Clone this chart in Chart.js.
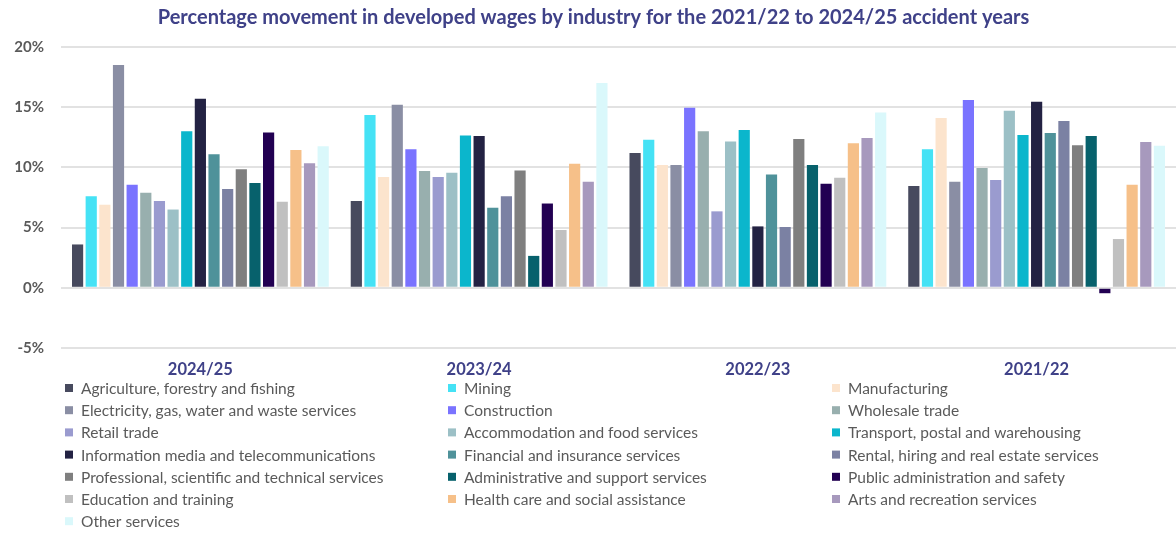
<!DOCTYPE html>
<html>
<head>
<meta charset="utf-8">
<script src="https://cdn.jsdelivr.net/npm/chart.js@4/dist/chart.umd.min.js"></script>
<style>
  html, body { margin: 0; padding: 0; background: #fff; }
  #wrap { width: 1176px; height: 533px; position: relative; }
</style>
</head>
<body>
<div id="wrap"><canvas id="wages"></canvas></div>
<script>
// accident years, newest first
const years = ['2024/25', '2023/24', '2022/23', '2021/22'];

const industries = [
  'Agriculture, forestry and fishing',
  'Mining',
  'Manufacturing',
  'Electricity, gas, water and waste services',
  'Construction',
  'Wholesale trade',
  'Retail trade',
  'Accommodation and food services',
  'Transport, postal and warehousing',
  'Information media and telecommunications',
  'Financial and insurance services',
  'Rental, hiring and real estate services',
  'Professional, scientific and technical services',
  'Administrative and support services',
  'Public administration and safety',
  'Education and training',
  'Health care and social assistance',
  'Arts and recreation services',
  'Other services'
];

// % movement per industry, one value per year above
const agriculture   = [3.6, 7.2, 11.2, 8.45];
const mining        = [7.6, 14.35, 12.3, 11.5];
const manufacturing = [6.9, 9.2, 10.2, 14.1];
const electricity   = [18.5, 15.2, 10.2, 8.8];
const construction  = [8.55, 11.5, 14.95, 15.6];
const wholesale     = [7.9, 9.7, 13.0, 9.95];
const retail        = [7.2, 9.2, 6.35, 8.95];
const accommodation = [6.5, 9.55, 12.15, 14.7];
const transport     = [13.0, 12.65, 13.1, 12.7];
const information   = [15.7, 12.6, 5.1, 15.45];
const financial     = [11.1, 6.65, 9.4, 12.85];
const rental        = [8.2, 7.6, 5.05, 13.85];
const professional  = [9.85, 9.75, 12.35, 11.85];
const administrative = [8.7, 2.65, 10.2, 12.6];
const publicAdmin   = [12.9, 7.0, 8.65, -0.45];
const education     = [7.15, 4.8, 9.15, 4.05];
const health        = [11.45, 10.3, 12.0, 8.55];
const arts          = [10.35, 8.8, 12.45, 12.1];
const otherServices = [11.75, 17.0, 14.55, 11.8];

const seriesValues = [agriculture, mining, manufacturing, electricity, construction,
  wholesale, retail, accommodation, transport, information, financial, rental,
  professional, administrative, publicAdmin, education, health, arts, otherServices];

const palette = ['#474a5e', '#45e2f5', '#fce4cd', '#8a8ea4', '#7a73ff', '#98afae',
  '#9a9bcf', '#9cc0c6', '#0bb6cc', '#232243', '#4f929a', '#7b81a3', '#7f7f7f',
  '#07616c', '#220052', '#c0c0c0', '#f6c089', '#a799bd', '#daf8fb'];

const yTicks = [-5, 0, 5, 10, 15, 20];

const titleColor = '#3f4188';
const textGrey = '#5a5a5a';

// draws the legend as a three column grid under the axis
const gridLegend = {
  id: 'gridLegend',
  afterDraw(chart) {
    const ctx = chart.ctx;
    const colX = [65, 448, 832];
    ctx.save();
    ctx.font = '15.5px Lato';
    ctx.textBaseline = 'middle';
    chart.data.datasets.forEach((ds, i) => {
      const x = colX[i % 3];
      const y = 388 + Math.floor(i / 3) * 22.2;
      ctx.fillStyle = ds.backgroundColor;
      ctx.fillRect(x, y - 4, 8, 8);
      ctx.fillStyle = textGrey;
      ctx.fillText(ds.label, x + 16, y + 1);
    });
    ctx.restore();
  }
};

new Chart(document.getElementById('wages'), {
  type: 'bar',
  data: {
    labels: years,
    datasets: industries.map((name, i) => ({
      label: name,
      data: seriesValues[i],
      backgroundColor: palette[i],
      borderWidth: 0,
      categoryPercentage: 0.93,
      barPercentage: 0.82
    }))
  },
  options: {
    responsive: true,
    maintainAspectRatio: false,
    animation: false,
    layout: { padding: { left: 11, right: 0, top: 0, bottom: 154 } },
    plugins: {
      legend: { display: false },
      tooltip: { enabled: false },
      title: {
        display: true,
        text: 'Percentage movement in developed wages by industry for the 2021/22 to 2024/25 accident years',
        color: titleColor,
        font: { family: 'Lato', size: 20, weight: 'bold' },
        padding: { top: 6, bottom: 17 }
      }
    },
    scales: {
      x: {
        grid: { display: false, drawTicks: false },
        border: { display: false },
        afterFit: (s) => { s.height = 31; },
        ticks: {
          color: titleColor,
          padding: 12,
          font: { family: 'Lato', size: 16.5, weight: 'bold' }
        }
      },
      y: {
        min: yTicks[0],
        max: yTicks[yTicks.length - 1],
        afterBuildTicks: (axis) => { axis.ticks = yTicks.map(v => ({ value: v })); },
        afterFit: (s) => { s.width = 50; },
        grid: { color: '#e2e2e2', lineWidth: 2, drawTicks: false },
        border: { display: false },
        ticks: {
          color: textGrey,
          padding: 17,
          font: { family: 'Lato', size: 15, weight: 'bold' },
          callback: (v) => v + '%'
        }
      }
    }
  },
  plugins: [gridLegend]
});
</script>
</body>
</html>
